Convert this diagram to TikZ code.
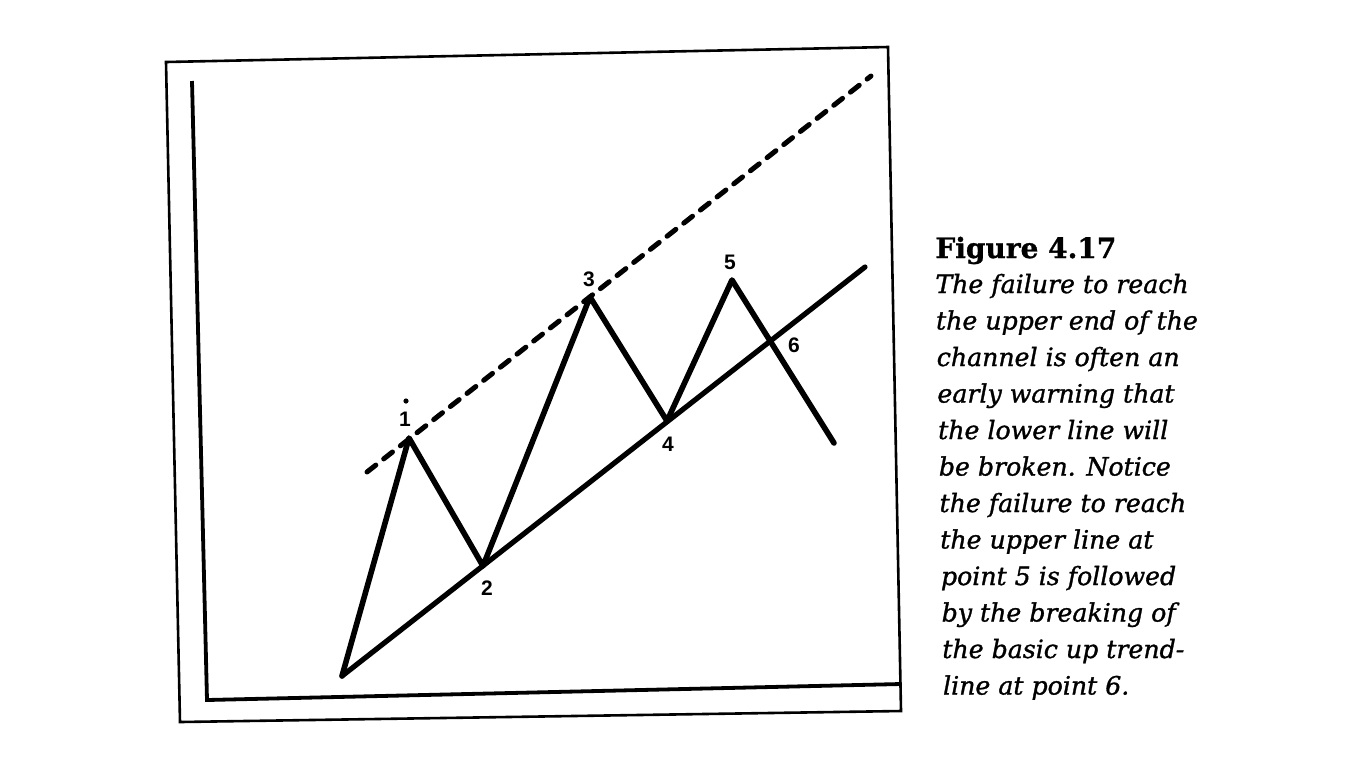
\documentclass[tikz,border=0pt]{standalone}
\usepackage{fontspec}
\setmainfont{DejaVu Serif}
\newfontfamily\labfont{Liberation Sans}
\newfontfamily\capfont{DejaVu Serif}[ItalicFeatures={FakeBold=1.2}, BoldFeatures={FakeBold=1}]
\begin{document}
\begin{tikzpicture}[x=0.5pt,y=-0.5pt,
  frameline/.style={line width=1.3pt},
  axisline/.style={line width=1.9pt},
  priceline/.style={line width=2.8pt, line join=round, line cap=round},
  trendline/.style={line width=2.6pt, line cap=round},
  channelline/.style={line width=2.5pt, line cap=round, dash pattern=on 5.6pt off 5pt},
  ptlabel/.style={font=\labfont\bfseries\fontsize{10.5}{12}\selectfont, inner sep=0pt},
  captitle/.style={font=\capfont\bfseries\fontsize{14}{16}\selectfont, anchor=base west, inner sep=0pt},
  captext/.style={font=\capfont\itshape\fontsize{12.6}{15}\selectfont, anchor=base west, inner sep=0pt}
]
\useasboundingbox (0,0) rectangle (1366,768);
% outer frame
\coordinate (ftl) at (166,62);
\coordinate (ftr) at (888,47);
\coordinate (fbr) at (901,711);
\coordinate (fbl) at (180,722);
\draw[frameline] (ftl) -- (ftr) -- (fbr) -- (fbl) -- cycle;
% axes
\coordinate (ytop) at (192,81);
\coordinate (orig) at (207,700);
\coordinate (xend) at (901,684);
\draw[axisline] (ytop) -- (orig) -- (xend);
% price path
\coordinate (p0) at (342,676);
\coordinate (p1) at (409,438);
\coordinate (p2) at (483,566);
\coordinate (p3) at (590,297);
\coordinate (p4) at (667,421);
\coordinate (p5) at (732,280);
\coordinate (p7) at (834,443);
\draw[priceline] (p0) -- (p1) -- (p2) -- (p3) -- (p4) -- (p5) -- (p7);
% lower trendline
\coordinate (t1) at (865,267);
\draw[trendline] (p0) -- (t1);
% dashed channel line
\coordinate (c0) at (367,472);
\coordinate (c1) at (871,76);
\draw[channelline] (c0) -- (c1);
% labels
\node[ptlabel] (l1) at (405,419) {1};
\fill (406,401) circle (1.3pt);
\node[ptlabel] (l2) at (487,588) {2};
\node[ptlabel] (l3) at (589,279) {3};
\node[ptlabel] (l4) at (668,444) {4};
\node[ptlabel] (l5) at (730,262) {5};
\node[ptlabel] (l6) at (794,345) {6};
% caption
\node[captitle] (ct) at (935,258) {Figure 4.17};
\node[captext] (c01) at (935,293) {The failure to reach};
\node[captext] (c02) at (935.7,329.5) {the upper end of the};
\node[captext] (c03) at (936.4,366) {channel is often an};
\node[captext] (c04) at (937.1,402.5) {early warning that};
\node[captext] (c05) at (937.8,439) {the lower line will};
\node[captext] (c06) at (938.5,475.5) {be broken. Notice};
\node[captext] (c07) at (939.2,512) {the failure to reach};
\node[captext] (c08) at (939.9,548.5) {the upper line at};
\node[captext] (c09) at (940.6,585) {point 5 is followed};
\node[captext] (c10) at (941.3,621.5) {by the breaking of};
\node[captext] (c11) at (942,658) {the basic up trend-};
\node[captext] (c12) at (942.7,694.5) {line at point 6.};
\end{tikzpicture}
\end{document}
